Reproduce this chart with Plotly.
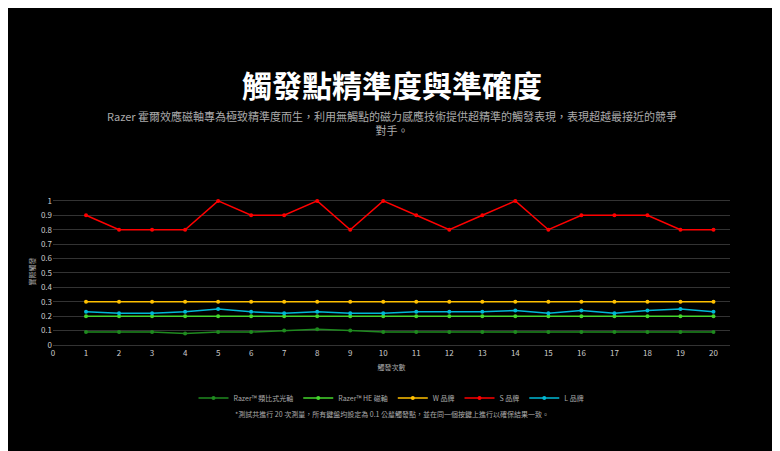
import plotly.graph_objects as go

presses = list(range(1, 21))
analog = [0.09, 0.09, 0.09, 0.08, 0.09, 0.09, 0.10, 0.11, 0.10, 0.09,
          0.09, 0.09, 0.09, 0.09, 0.09, 0.09, 0.09, 0.09, 0.09, 0.09]
he = [0.2] * 20
w_brand = [0.3] * 20
s_brand = [0.9, 0.8, 0.8, 0.8, 1.0, 0.9, 0.9, 1.0, 0.8, 1.0,
           0.9, 0.8, 0.9, 1.0, 0.8, 0.9, 0.9, 0.9, 0.8, 0.8]
l_brand = [0.23, 0.22, 0.22, 0.23, 0.25, 0.23, 0.22, 0.23, 0.22, 0.22,
           0.23, 0.23, 0.23, 0.24, 0.22, 0.24, 0.22, 0.24, 0.25, 0.23]

series = [
    ("Razer™ 類比式光軸", analog, "#1f8a1f"),
    ("Razer™ HE 磁軸", he, "#44d62c"),
    ("W 品牌", w_brand, "#ffc000"),
    ("S 品牌", s_brand, "#ff0000"),
    ("L 品牌", l_brand, "#00b8d4"),
]

fig = go.Figure()
for name, vals, col in series:
    fig.add_trace(go.Scatter(x=presses, y=vals, name=name, mode="lines+markers",
                             line=dict(color=col, width=1.5),
                             marker=dict(color=col, size=4)))

fig.update_layout(
    width=780, height=451,
    paper_bgcolor="black", plot_bgcolor="black",
    font=dict(family="Noto Sans CJK TC", color="#aaaaaa", size=8),
    margin=dict(l=45, r=58, t=190, b=114),
    showlegend=True,
    legend=dict(orientation="h", x=0.5, xanchor="center", y=-0.36, yanchor="middle",
                font=dict(size=7, color="#aaaaaa")),
)
fig.add_annotation(text="<b>觸發點精準度與準確度</b>", x=0.5, y=1.0, xref="paper", yref="paper",
                   yshift=138, showarrow=False, font=dict(size=30, color="white"))
fig.add_annotation(text="Razer 霍爾效應磁軸專為極致精準度而生，利用無觸點的磁力感應技術提供超精準的觸發表現，表現超越最接近的競爭<br>對手。",
                   x=0.5, y=1.0, xref="paper", yref="paper", yshift=92, showarrow=False,
                   font=dict(size=11, color="#aaaaaa"))
fig.add_annotation(text="*測試共進行 20 次測量，所有鍵盤均設定為 0.1 公釐觸發點，並在同一個按鍵上進行以確保結果一致。",
                   x=0.5, y=0.0, xref="paper", yref="paper", yshift=-76, showarrow=False,
                   font=dict(size=7, color="#aaaaaa"))

fig.update_xaxes(range=[0, 20.5], dtick=1, title=dict(text="觸發次數", font=dict(size=7), standoff=8),
                 showgrid=False, zeroline=False, showline=True, linecolor="#333333",
                 tickfont=dict(size=8, color="#cccccc"))
fig.update_yaxes(range=[0, 1.02], dtick=0.1, title=dict(text="實際觸發", font=dict(size=7), standoff=4),
                 gridcolor="#333333", zeroline=False, tickfont=dict(size=8, color="#cccccc"))

fig.write_html("out.html")
